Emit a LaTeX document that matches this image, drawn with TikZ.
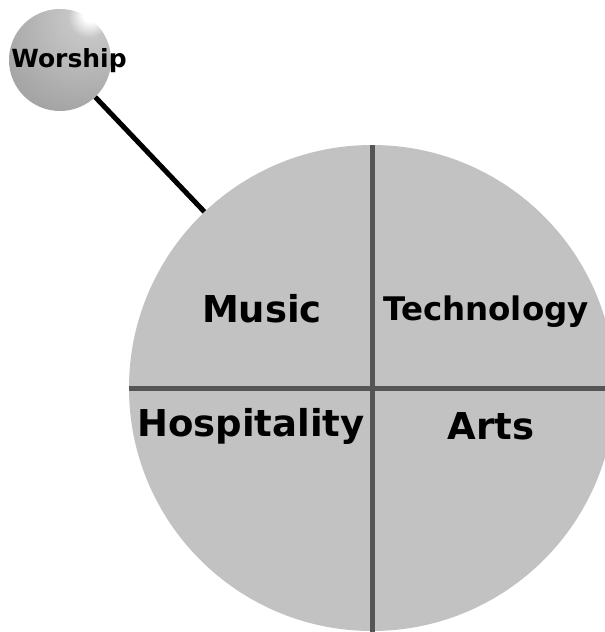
\documentclass[tikz,border=0pt]{standalone}
\usepackage{fontspec}
\setsansfont{DejaVu Sans}
\usetikzlibrary{shadings}

\definecolor{discgray}{HTML}{C2C2C2}
\definecolor{crossgray}{HTML}{555555}
\pgfdeclareradialshading{worshipball}{\pgfpoint{16bp}{24bp}}{%
  color(0bp)=(white); color(4bp)=(white); color(10bp)=(gray!45);
  color(35bp)=(gray!68); color(60bp)=(gray!88); color(80bp)=(gray!80!black)}

\begin{document}
\begin{tikzpicture}[x=1pt,y=-1pt]
        \tikzset{disc/.style={circle, fill=discgray, inner sep=0pt, minimum size=486pt},
        sphere/.style={circle, shading=worshipball, inner sep=0pt, minimum size=102pt},
        area/.style={font=\sffamily\bfseries\fontsize{37}{37}\selectfont, text=black, anchor=base, inner sep=0pt},
        }
        \useasboundingbox (0,0) rectangle (605,632);
        \clip (0,0) rectangle (605,632);

        \node [disc]  (ministries) at (372,388) {};
        \node [sphere] (worship) at (60,60) {};
        \node [area, font=\sffamily\bfseries\fontsize{25}{25}\selectfont] (worshiplbl) at (69,67) {Worship};

%% paths
        \path[draw, line width=5pt, black] (worship) edge (ministries);
        \path[draw, line width=5pt, crossgray] (ministries.north) edge ([yshift=-20pt]ministries.south)
                    (ministries.west) edge ([xshift=10pt]ministries.east);

        \node [area] (music) at (262,322) {Music};
        \node [area, font=\sffamily\bfseries\fontsize{32.5}{32.5}\selectfont] (technology) at (486,320) {Technology};
        \node [area] (hospitality) at (251,436) {Hospitality};
        \node [area] (arts) at (491,439) {Arts};
    \end{tikzpicture}
\end{document}
